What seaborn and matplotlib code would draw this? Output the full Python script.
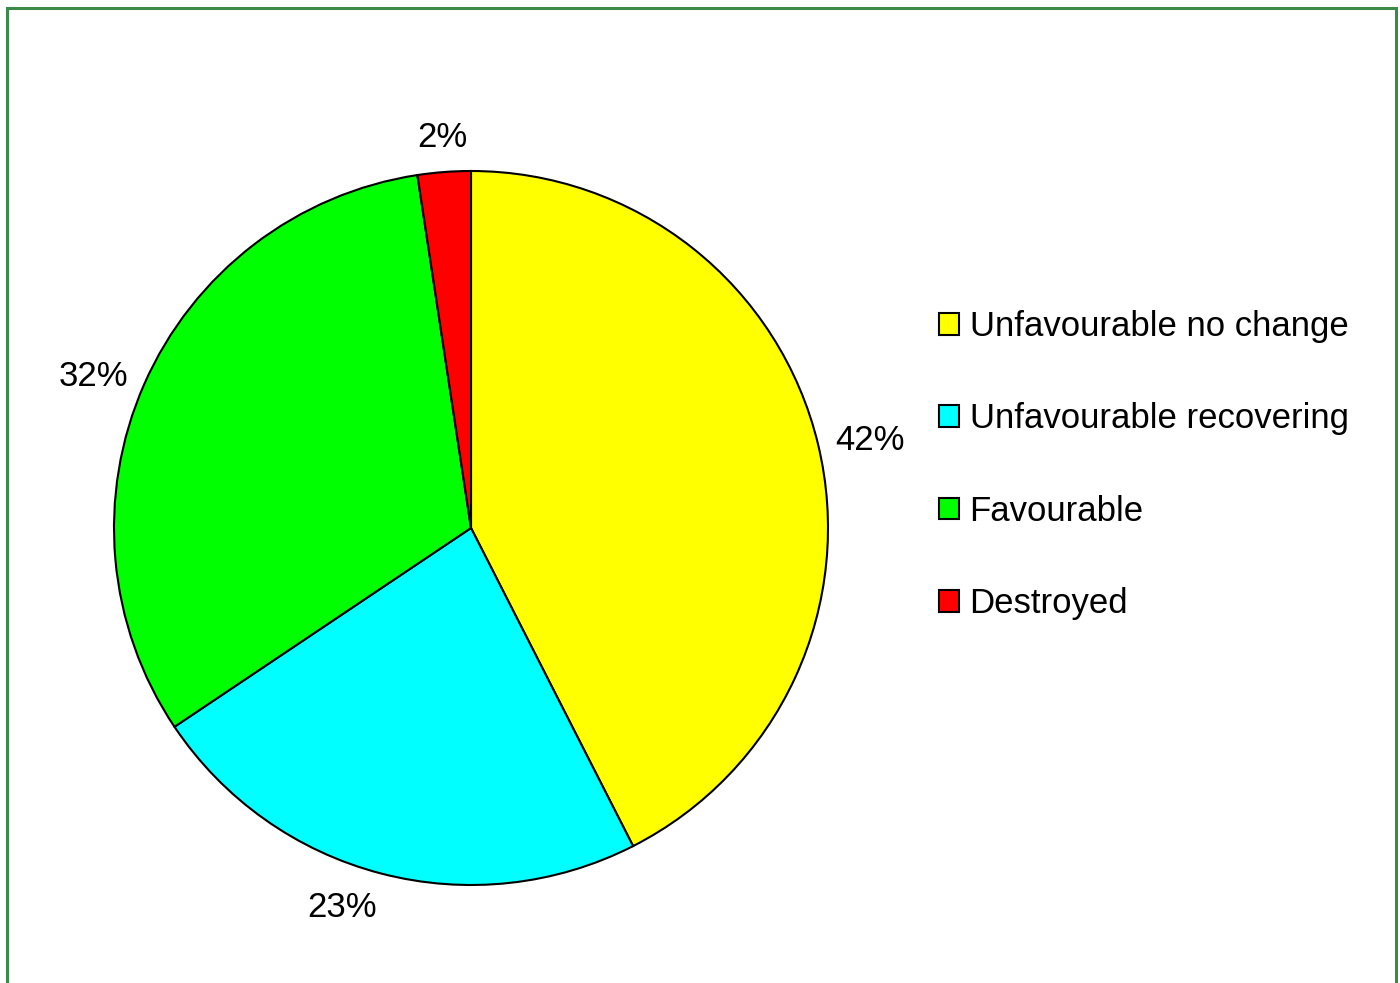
import matplotlib
matplotlib.use('Agg')
import numpy as np
import matplotlib.pyplot as plt
from matplotlib.patches import Rectangle, Patch
import seaborn as sns

# condition of sites (share of total, %)
categories = ['Unfavourable no change', 'Unfavourable recovering', 'Favourable', 'Destroyed']
shares = [42.5, 23.1, 32.0, 2.4]
colours = ['#FFFF00', '#00FFFF', '#00FF00', '#FF0000']

sns.set_theme(style='white')
plt.rcParams['font.family'] = ['Liberation Sans', 'DejaVu Sans']
plt.rcParams['text.color'] = 'black'

fig = plt.figure(figsize=(14, 9.83), dpi=100)
fig.patch.set_facecolor('white')

# pie centre (471, 528) px, radius 357 px
ax = fig.add_axes([114 / 1400, 98 / 983, 714 / 1400, 714 / 983])
wedges, texts = ax.pie(
    shares, colors=colours, startangle=90, counterclock=False,
    wedgeprops=dict(edgecolor='black', linewidth=1.5))
ax.set_xlim(-1, 1)
ax.set_ylim(-1, 1)
ax.set_aspect('equal')
ax.axis('off')

# percentage labels placed just outside each slice, aligned like Excel does
total = sum(shares)
for w, s in zip(wedges, shares):
    ang = np.deg2rad((w.theta1 + w.theta2) / 2)
    cx, cy = np.cos(ang), np.sin(ang)
    ha = 'left' if cx > 0.2 else ('right' if cx < -0.2 else 'center')
    va = 'bottom' if cy > 0.5 else ('top' if cy < -0.5 else 'center')
    ax.text(1.05 * cx, 1.05 * cy, '{:.0f}%'.format(100 * s / total),
            ha=ha, va=va, fontsize=25, color='black')

handles = [Patch(facecolor=c, edgecolor='black', linewidth=1.5) for c in colours]
fig.legend(handles, categories, loc='upper left',
           bbox_to_anchor=(939 / 1400, 1 - 310 / 983), frameon=False,
           fontsize=25, handlelength=0.58, handleheight=0.58,
           handletextpad=0.3, labelspacing=1.71, borderpad=0, borderaxespad=0,
           labelcolor='black')

# green frame round the chart (bottom edge falls outside the image)
fig.patches.append(Rectangle((7 / 1400, -0.05), 1389 / 1400, 1.05 - 8 / 983,
                             transform=fig.transFigure, fill=False,
                             edgecolor='#3C8A48', linewidth=2.2))

fig.savefig('out.png', dpi=100)
